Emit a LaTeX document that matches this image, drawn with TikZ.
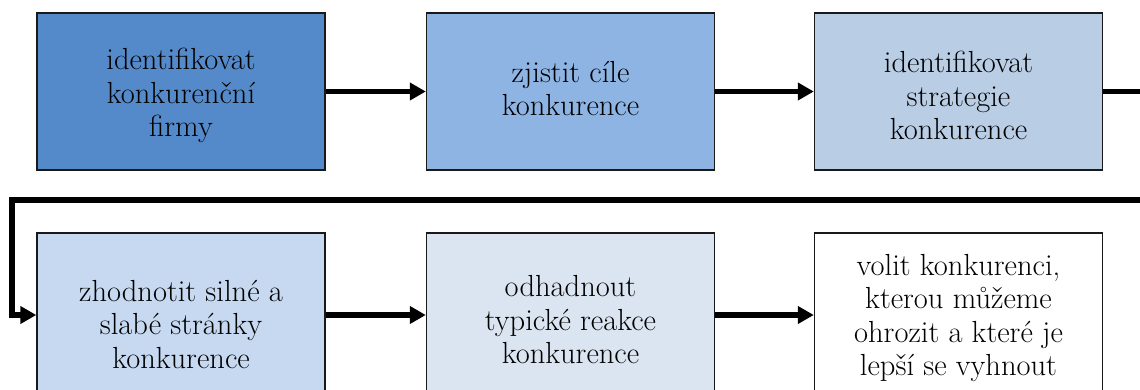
\documentclass[tikz,border=0pt]{standalone}
\usepackage{fontspec}
\usetikzlibrary{arrows.meta}
\definecolor{cA}{RGB}{84,138,202}
\definecolor{cB}{RGB}{142,180,227}
\definecolor{cC}{RGB}{185,205,229}
\definecolor{cD}{RGB}{198,217,240}
\definecolor{cE}{RGB}{219,229,241}
\newcommand\boxfont{\fontsize{30.5}{33.5}\selectfont}
\tikzset{
  stepbox/.style={draw=black!90, line width=1.4pt, minimum width=288pt, inner sep=0pt},
  toprow/.style={stepbox, minimum height=157pt},
  botrow/.style={stepbox, minimum height=164pt},
  label/.style={inner sep=0pt, align=center, font=\boxfont},
  arr/.style={line width=5.5pt, -{Triangle[length=16pt,width=17pt]}}
}
\begin{document}
\begin{tikzpicture}[x=1pt,y=-1pt]
\useasboundingbox (0,0) rectangle (1140,389);
\clip (0,0) rectangle (1140,389);
\node[toprow, fill=cA] (b1) at (181,91.5) {};
\node[toprow, fill=cB] (b2) at (570.5,91.5) {};
\node[toprow, fill=cC] (b3) at (958.5,91.5) {};
\node[botrow, fill=cD] (b4) at (181,315) {};
\node[botrow, fill=cE] (b5) at (570.5,315) {};
\node[botrow, fill=white] (b6) at (958.5,315) {};
\node[label] (t1) at (181,95.5) {identifikovat\\konkurenční\\firmy};
\node[label] (t2) at (570.5,88.5) {zjistit cíle\\konkurence};
\node[label] (t3) at (958.5,95.5) {identifikovat\\strategie\\konkurence};
\node[label] (t4) at (181,324.5) {zhodnotit silné a\\slabé stránky\\konkurence};
\node[label] (t5) at (570.5,320) {odhadnout\\typické reakce\\konkurence};
\node[label] (t6) at (958.5,318) {volit konkurenci,\\kterou můžeme\\ohrozit a které je\\lepší se vyhnout};
\coordinate (r1) at (1170,91.5);
\coordinate (r2) at (1170,200);
\coordinate (l1) at (12,200);
\coordinate (l2) at (12,315);
\draw[arr] (b1) -- (b2);
\draw[arr] (b2) -- (b3);
\draw[arr] (b3.east) -- (r1) -- (r2) -- (l1) -- (l2) -- (b4.west);
\draw[arr] (b4) -- (b5);
\draw[arr] (b5) -- (b6);
\end{tikzpicture}
\end{document}
